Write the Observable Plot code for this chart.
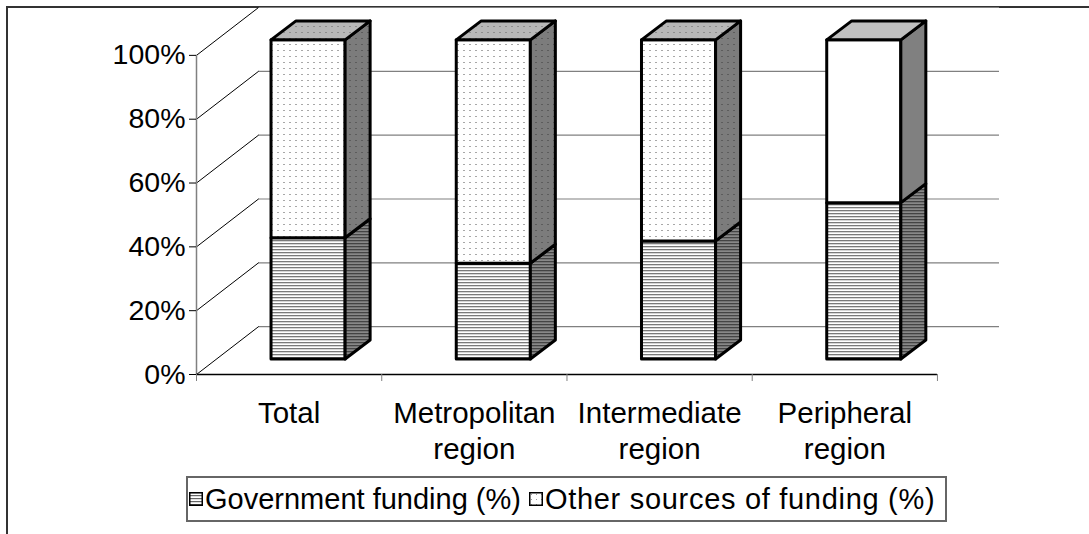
<!DOCTYPE html>
<html>
<head>
<meta charset="utf-8">
<script src="https://cdn.jsdelivr.net/npm/d3@7"></script>
<script src="https://cdn.jsdelivr.net/npm/@observablehq/plot@0.6"></script>
<style>
  html, body { margin: 0; padding: 0; background: #fff; }
  #wrap { position: relative; width: 1089px; height: 534px; overflow: hidden; font-family: "Liberation Sans", Arial, sans-serif; }
  #frame { position: absolute; left: 6px; top: 6px; width: 1200px; height: 700px; border: 2px solid #333; }
  #chart { position: absolute; left: 0; top: 0; }
  #legend { position: absolute; left: 186px; top: 476px; width: 761px; height: 46px; box-sizing: border-box;
            border: 2px solid #666; display: flex; align-items: center; font-size: 29px; color: #000; padding-left: 1px; white-space: nowrap; }
  #legend .sw { width: 14px; height: 14px; margin-right: 2px; }
  #legend .item { display: flex; align-items: center; margin-right: 8px; }
  #legend .item:nth-child(2) span { letter-spacing: 0.7px; }
</style>
</head>
<body>
<div id="wrap">
  <div id="frame"></div>
  <div id="chart"></div>
  <div id="legend"></div>
</div>
<script>
// ---- data ----
const categories = ["Total", "Metropolitan\nregion", "Intermediate\nregion", "Peripheral\nregion"];
const government = [38, 30, 37, 49];
const other = [62, 70, 63, 51];
const yTicks = [0, 20, 40, 60, 80, 100];
const seriesNames = ["Government funding (%)", "Other sources of funding (%)"];

// ---- 3D geometry (in data units) ----
const dxD = 0.335, dyD = 15;      // wall depth
const w = 0.4;                    // bar width (fraction of band)
const fx = 0.105, fy = 4.7;       // bar front offset
const sx = 0.135, sy = 5.95;      // bar depth

const styles = [
  {front: "url(#hFront)", side: "url(#hSide)", top: "url(#hSide)"},
  {front: "url(#dFront)", side: "url(#dSide)", top: "url(#dTop)"}
];
const plainOther = {front: "#ffffff", side: "#808080", top: "#c0c0c0"};

const segments = [];
categories.forEach((c, i) => {
  const vals = [government[i], other[i]];
  let lo = 0;
  vals.forEach((v, s) => {
    const st = (s === 1 && i === 3) ? plainOther : styles[s];
    segments.push({i, s, lo, hi: lo + v, ...st, key: i + "-" + s});
    lo += v;
  });
});
const L = d => d.i + 0.5 - w / 2 + fx;
const R = d => d.i + 0.5 + w / 2 + fx;

const sidePts = segments.flatMap(d => [
  {k: d.key, x: R(d), y1: d.lo + fy, y2: d.hi + fy, fill: d.side},
  {k: d.key, x: R(d) + sx, y1: d.lo + fy + sy, y2: d.hi + fy + sy, fill: d.side}
]);
const tops = segments.filter(d => d.s === 1);
const topPts = tops.flatMap(d => [
  {k: d.key, y: d.hi + fy, x1: L(d), x2: R(d), fill: d.top},
  {k: d.key, y: d.hi + fy + sy, x1: L(d) + sx, x2: R(d) + sx, fill: d.top}
]);

const zero = () => 0;
const chart = Plot.plot({
  width: 1089,
  height: 470,
  marginLeft: 196,
  marginRight: 90,
  marginTop: 7,
  marginBottom: 96,
  style: {fontFamily: "'Liberation Sans', Arial, sans-serif", fontSize: "28px", color: "#000", background: "transparent", overflow: "visible"},
  x: {type: "linear", domain: [0, 4 + dxD], axis: null},
  y: {type: "linear", domain: [0, 100 + dyD], axis: null},
  color: {type: "identity"},
  marks: [
    // back wall gridlines
    Plot.ruleY(yTicks, {y: d => d + dyD, x1: () => dxD, x2: () => 4 + dxD, stroke: "#808080", strokeWidth: 1.2}),
    // side wall diagonals
    Plot.link(yTicks, {x1: zero, y1: d => d, x2: () => dxD, y2: d => d + dyD, stroke: "#000", strokeWidth: 1}),
    // front axes lines
    Plot.ruleX([0], {x: d => d, y1: zero, y2: () => 100, stroke: "#808080", strokeWidth: 1.5}),
    Plot.ruleY([0], {y: d => d, x1: zero, x2: () => 4, stroke: "#000", strokeWidth: 1.5}),
    Plot.axisY({ticks: yTicks, tickFormat: d => d + "%", tickSize: 7, tickPadding: 4, fontSize: 28.5, anchor: "left"}),
    Plot.axisX({ticks: [0, 1, 2, 3, 4], tickSize: 7, tickFormat: () => "", stroke: "#808080", anchor: "bottom"}),
    Plot.text(categories, {x: (d, i) => i + 0.5, y: zero, dy: 23, lineAnchor: "top", lineHeight: 1.22, fontSize: 29.5, fill: "#000"}),
    // bars
    Plot.rect(segments, {x1: L, x2: R, y1: d => d.lo + fy, y2: d => d.hi + fy, fill: "front", stroke: "#000", strokeWidth: 3, strokeLinejoin: "round"}),
    Plot.areaY(sidePts, {x: "x", y1: "y1", y2: "y2", z: "k", fill: "fill", stroke: "#000", strokeWidth: 3, strokeLinejoin: "round"}),
    Plot.areaX(topPts, {y: "y", x1: "x1", x2: "x2", z: "k", fill: "fill", stroke: "#000", strokeWidth: 3, strokeLinejoin: "round"})
  ]
});

const defsMarkup = `
  <pattern id="hFront" width="4" height="3" patternUnits="userSpaceOnUse">
    <rect width="4" height="3" fill="#fff"/><rect width="4" height="1.3" fill="#7a7a7a"/>
  </pattern>
  <pattern id="hSide" width="4" height="3" patternUnits="userSpaceOnUse">
    <rect width="4" height="3" fill="#888"/><rect width="4" height="1.3" fill="#444"/>
  </pattern>
  <pattern id="dFront" width="6" height="6" patternUnits="userSpaceOnUse">
    <rect width="6" height="6" fill="#fff"/><rect x="1" y="2" width="2" height="1" fill="#a8a8a8"/>
  </pattern>
  <pattern id="dSide" width="6" height="6" patternUnits="userSpaceOnUse">
    <rect width="6" height="6" fill="#7c7c7c"/><rect x="1" y="2" width="2" height="1" fill="#5c5c5c"/>
  </pattern>
  <pattern id="dTop" width="6" height="6" patternUnits="userSpaceOnUse">
    <rect width="6" height="6" fill="#b8b8b8"/><rect x="1" y="2" width="2" height="1" fill="#8e8e8e"/>
  </pattern>`;
const defs = document.createElementNS("http://www.w3.org/2000/svg", "defs");
defs.innerHTML = defsMarkup;
chart.insertBefore(defs, chart.firstChild);
document.getElementById("chart").appendChild(chart);

// legend
const legend = d3.select("#legend");
const swFills = ["url(#lgH)", "url(#lgD)"];
seriesNames.forEach((name, s) => {
  const item = legend.append("div").attr("class", "item");
  const sw = item.append("svg").attr("class", "sw").attr("width", 14).attr("height", 14);
  const d = sw.append("defs");
  if (s === 0) {
    const p = d.append("pattern").attr("id", "lgH").attr("width", 4).attr("height", 3).attr("patternUnits", "userSpaceOnUse");
    p.append("rect").attr("width", 4).attr("height", 3).attr("fill", "#fff");
    p.append("rect").attr("width", 4).attr("height", 1.2).attr("fill", "#666");
  } else {
    const p = d.append("pattern").attr("id", "lgD").attr("width", 5).attr("height", 5).attr("patternUnits", "userSpaceOnUse");
    p.append("rect").attr("width", 5).attr("height", 5).attr("fill", "#fff");
    p.append("rect").attr("x", 2).attr("y", 2).attr("width", 1).attr("height", 1).attr("fill", "#999");
  }
  sw.append("rect").attr("x", 0.75).attr("y", 0.75).attr("width", 12.5).attr("height", 12.5)
    .attr("fill", swFills[s]).attr("stroke", "#000").attr("stroke-width", 1.5);
  item.append("span").text(name);
});
</script>
</body>
</html>
